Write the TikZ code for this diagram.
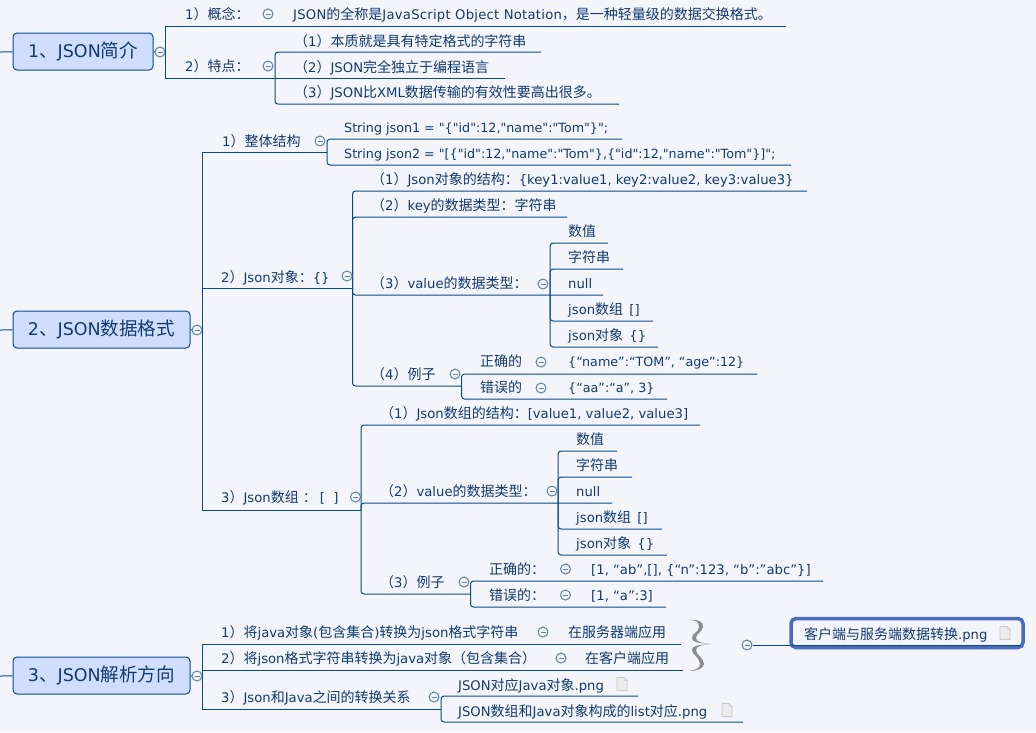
\documentclass[tikz,border=0pt]{standalone}
\usepackage{fontspec}
\newfontfamily\latinface{DejaVu Sans}
\newfontfamily\widelatin[LetterSpace=1.8]{DejaVu Sans}
\newfontfamily\cjk[Scale=1.06]{Noto Sans CJK SC}
\usetikzlibrary{positioning, calc}
\definecolor{bgpaper}{RGB}{243,245,251}
\definecolor{rootblue}{RGB}{207,222,255}
\definecolor{linenavy}{RGB}{6,74,140}
\definecolor{textnavy}{RGB}{18,58,110}
\definecolor{toggleblue}{RGB}{93,130,168}
\definecolor{boxblue}{RGB}{72,107,190}
\definecolor{bracegray}{RGB}{140,140,140}
\definecolor{pagefill}{RGB}{236,236,236}
\definecolor{pageedge}{RGB}{200,200,200}
\tikzset{
  root/.style={
    draw=linenavy,
    fill=rootblue,
    rounded corners=4pt,
    line width=1pt,
    minimum height=37pt,
    inner sep=0pt,
    text=textnavy,
    font=\latinface\fontsize{17.5}{21}\selectfont
  },
  item/.style={anchor=base west, inner sep=0pt, text=textnavy, font=\latinface\fontsize{13.2}{16}\selectfont},
  codeitem/.style={item, font=\latinface\fontsize{12.7}{16}\selectfont},
  toggle/.style={
    circle,
    draw=toggleblue,
    fill=bgpaper,
    line width=1pt,
    minimum size=10pt,
    inner sep=0pt,
    path picture={\draw[toggleblue, line width=1pt]
      ([xshift=-2.5pt]path picture bounding box.center) -- ([xshift=2.5pt]path picture bounding box.center);}
  },
  wire/.style={draw=linenavy, line width=1pt},
  elbow/.style={wire, rounded corners=3pt},
  linkbox/.style={
    draw=boxblue,
    fill=bgpaper,
    rounded corners=5pt,
    line width=3.5pt,
    minimum width=232pt,
    minimum height=29pt,
    inner sep=0pt
  },
  pageicon/.pic={
    \draw[draw=pageedge, fill=pagefill, line width=0.7pt]
      (-5,-6.5) -- (2,-6.5) -- (5,-3.5) -- (5,6.5) -- (-5,6.5) -- cycle;
    \draw[draw=pageedge, fill=white, line width=0.5pt] (2,-6.5) -- (2,-3.5) -- (5,-3.5) -- cycle;
  }
}
\begin{document}
\begin{tikzpicture}[x=1pt, y=-1pt]
  \useasboundingbox (0,0) rectangle (1036,732);
  \fill[bgpaper] (0,0) rectangle (1036,732);

  \coordinate (in1) at (0,52);
  \coordinate (in2) at (0,330);
  \coordinate (in3) at (0,676);
  \coordinate (bus1) at (165,52);
  \coordinate (bus1b) at (275,78);
  \coordinate (bus2) at (202,330);
  \coordinate (bus2a) at (327,152);
  \coordinate (bus2b) at (352.5,288);
  \coordinate (bus2b3) at (550,295);
  \coordinate (bus2b4) at (461.5,386);
  \coordinate (bus2c) at (361,510);
  \coordinate (bus2c2) at (558,503);
  \coordinate (bus2c3) at (470.5,594);
  \coordinate (bus3) at (202,676);
  \coordinate (bus3c) at (441,709);

  \coordinate (end1a) at (786,26);
  \coordinate (end1b1) at (541,52);
  \coordinate (end1b2) at (505,78);
  \coordinate (end1b3) at (619,104);
  \coordinate (end2a1) at (622,139);
  \coordinate (end2a2) at (791,165);
  \coordinate (end2b1) at (807,191);
  \coordinate (end2b2) at (567,217);
  \coordinate (end2b3) at (603,295);
  \coordinate (end2b3a) at (608,243);
  \coordinate (end2b3b) at (623,269);
  \coordinate (end2b3d) at (653,321);
  \coordinate (end2b3e) at (658,347);
  \coordinate (end2b4a) at (757,374);
  \coordinate (end2b4b) at (667,399);
  \coordinate (end2c1) at (700,425);
  \coordinate (end2c2) at (612,503);
  \coordinate (end2c2a) at (617,451);
  \coordinate (end2c2b) at (632,477);
  \coordinate (end2c2d) at (662,529);
  \coordinate (end2c2e) at (667,555);
  \coordinate (end2c3a) at (823,581);
  \coordinate (end2c3b) at (666,607);
  \coordinate (end3a) at (681,644);
  \coordinate (end3b) at (683,670);
  \coordinate (end3c1) at (638,696);
  \coordinate (end3c2) at (743,722);
  \coordinate (endlink) at (1021,645);

  \node[root, minimum width=140pt] (root1) at (83,51.5) {1{\cjk 、}JSON{\cjk 简介}};
  \node[root, minimum width=177pt] (root2) at (101.5,329.5) {2{\cjk 、}JSON{\cjk 数据格式}};
  \node[root, minimum width=177pt] (root3) at (101.5,675.5) {3{\cjk 、}JSON{\cjk 解析方向}};

  \draw[wire] (in1) -- (root1);
  \draw[wire] (in2) -- (root2);
  \draw[wire] (in3) -- (root3);
  \draw[wire] (root1) -- (bus1);
  \draw[wire] (root2) -- (bus2);
  \draw[wire] (root3) -- (bus3);

  \draw[wire] (bus1) |- (end1a);
  \draw[wire] (bus1) |- (bus1b);
  \draw[elbow] (bus1b) |- (end1b1);
  \draw[wire] (bus1b) -- (end1b2);
  \draw[elbow] (bus1b) |- (end1b3);

  \draw[wire] (bus2) |- (bus2a);
  \draw[wire] (bus2) |- (bus2b);
  \draw[wire] (bus2) |- (bus2c);
  \draw[elbow] (bus2a) |- (end2a1);
  \draw[elbow] (bus2a) |- (end2a2);
  \draw[elbow] (bus2b) |- (end2b1);
  \draw[elbow] (bus2b) |- (end2b2);
  \draw[elbow] (bus2b) |- (end2b3);
  \draw[elbow] (bus2b) |- (bus2b4);
  \draw[elbow] (bus2b3) |- (end2b3a);
  \draw[elbow] (bus2b3) |- (end2b3b);
  \draw[elbow] (bus2b3) |- (end2b3d);
  \draw[elbow] (bus2b3) |- (end2b3e);
  \draw[elbow] (bus2b4) |- (end2b4a);
  \draw[elbow] (bus2b4) |- (end2b4b);
  \draw[elbow] (bus2c) |- (end2c1);
  \draw[elbow] (bus2c) |- (end2c2);
  \draw[elbow] (bus2c) |- (bus2c3);
  \draw[elbow] (bus2c2) |- (end2c2a);
  \draw[elbow] (bus2c2) |- (end2c2b);
  \draw[elbow] (bus2c2) |- (end2c2d);
  \draw[elbow] (bus2c2) |- (end2c2e);
  \draw[elbow] (bus2c3) |- (end2c3a);
  \draw[elbow] (bus2c3) |- (end2c3b);

  \draw[wire] (bus3) |- (end3a);
  \draw[wire] (bus3) |- (end3b);
  \draw[wire] (bus3) |- (bus3c);
  \draw[elbow] (bus3c) |- (end3c1);
  \draw[elbow] (bus3c) |- (end3c2);

  \node[toggle] (tog1) at (160,52) {};
  \node[toggle] (tog1a) at (268,14) {};
  \node[toggle] (tog1b) at (268,66) {};
  \node[toggle] (tog2) at (197,330) {};
  \node[toggle] (tog2a) at (320,141) {};
  \node[toggle] (tog2b) at (347,276) {};
  \node[toggle] (tog2b3) at (543,284) {};
  \node[toggle] (tog2b4) at (455,374) {};
  \node[toggle] (tog2b4a) at (541,362) {};
  \node[toggle] (tog2b4b) at (541,388) {};
  \node[toggle] (tog2c) at (355.5,497) {};
  \node[toggle] (tog2c2) at (552,491) {};
  \node[toggle] (tog2c3) at (464,582) {};
  \node[toggle] (tog2c3a) at (565.5,569) {};
  \node[toggle] (tog2c3b) at (565.5,595) {};
  \node[toggle] (tog3) at (197,676) {};
  \node[toggle] (tog3a) at (543,632) {};
  \node[toggle] (tog3b) at (561,658) {};
  \node[toggle] (tog3c) at (434,697) {};

  \node[item] (txt1a) at (185,19) {1{\cjk ）概念：}};
  \node[item] (val1a) at (293,19) {{\widelatin JSON}{\cjk 的全称是}{\widelatin JavaScript Object Notation}{\cjk ，是一种轻量级的数据交换格式。}};
  \node[item] (txt1b) at (185,71) {2{\cjk ）特点：}};
  \node[item] (txt1b1) at (294,46) {{\cjk （}1{\cjk ）本质就是具有特定格式的字符串}};
  \node[item] (txt1b2) at (294,72) {{\cjk （}2{\cjk ）}JSON{\cjk 完全独立于编程语言}};
  \node[item] (txt1b3) at (294,97) {{\cjk （}3{\cjk ）}JSON{\cjk 比}XML{\cjk 数据传输的有效性要高出很多。}};

  \node[item] (txt2a) at (222,146) {1{\cjk ）整体结构}};
  \node[codeitem] (txt2a1) at (344,132) {String json1 = "\{"id":12,"name":"Tom"\}";};
  \node[codeitem] (txt2a2) at (344,158) {String json2 = "[\{"id":12,"name":"Tom"\},\{"id":12,"name":"Tom"\}]";};

  \node[item] (txt2b) at (221,282) {2{\cjk ）}Json{\cjk 对象：}\{\}};
  \node[item] (txt2b1) at (371,184) {{\cjk （}1{\cjk ）}Json{\cjk 对象的结构：}\{key1:value1, key2:value2, key3:value3\}};
  \node[item] (txt2b2) at (371,210) {{\cjk （}2{\cjk ）}key{\cjk 的数据类型：字符串}};
  \node[item] (txt2b3) at (371,288) {{\cjk （}3{\cjk ）}value{\cjk 的数据类型：}};
  \node[item] (txt2b3a) at (568,236) {{\cjk 数值}};
  \node[item] (txt2b3b) at (568,262) {{\cjk 字符串}};
  \node[item] (txt2b3c) at (568,288) {null};
  \node[item] (txt2b3d) at (568,314) {json{\cjk 数组} \hspace{2pt}[]};
  \node[item] (txt2b3e) at (568,340) {json{\cjk 对象} \hspace{2pt}\{\}};
  \node[item] (txt2b4) at (371,379) {{\cjk （}4{\cjk ）例子}};
  \node[item] (txt2b4a) at (480,366) {{\cjk 正确的}};
  \node[codeitem] (val2b4a) at (568,366) {\{“name”:“TOM”, “age”:12\}};
  \node[item] (txt2b4b) at (480,392) {{\cjk 错误的}};
  \node[codeitem] (val2b4b) at (568,392) {\{“aa”:“a”, 3\}};

  \node[item] (txt2c) at (221,502) {3{\cjk ）}Json{\cjk 数组} {\cjk ：}\hspace{3pt}[\hspace{4pt} ]};
  \node[item] (txt2c1) at (380,418) {{\cjk （}1{\cjk ）}Json{\cjk 数组的结构：}[value1, value2, value3]};
  \node[item] (txt2c2) at (380,496) {{\cjk （}2{\cjk ）}value{\cjk 的数据类型：}};
  \node[item] (txt2c2a) at (576,444) {{\cjk 数值}};
  \node[item] (txt2c2b) at (576,470) {{\cjk 字符串}};
  \node[item] (txt2c2c) at (576,496) {null};
  \node[item] (txt2c2d) at (576,522) {json{\cjk 数组} \hspace{2pt}[]};
  \node[item] (txt2c2e) at (576,548) {json{\cjk 对象} \hspace{2pt}\{\}};
  \node[item] (txt2c3) at (380,587) {{\cjk （}3{\cjk ）例子}};
  \node[item] (txt2c3a) at (489,574) {{\cjk 正确的：}};
  \node[item] (val2c3a) at (591,574) {[1, “ab”,[], \{“n”:123, “b”:”abc”\}]};
  \node[item] (txt2c3b) at (489,600) {{\cjk 错误的：}};
  \node[item] (val2c3b) at (591,600) {[1, “a”:3]};

  \node[item] (txt3a) at (221,637) {1{\cjk ）将}java{\cjk 对象}({\cjk 包含集合}){\cjk 转换为}json{\cjk 格式字符串}};
  \node[item] (val3a) at (568,637) {{\cjk 在服务器端应用}};
  \node[item] (txt3b) at (221,663) {2{\cjk ）将}json{\cjk 格式字符串转换为}java{\cjk 对象（包含集合）}};
  \node[item] (val3b) at (585,663) {{\cjk 在客户端应用}};
  \node[item] (txt3c) at (221,702) {3{\cjk ）}Json{\cjk 和}Java{\cjk 之间的转换关系}};
  \node[item] (txt3c1) at (458,690) {JSON{\cjk 对应}Java{\cjk 对象}.png};
  \node[item] (txt3c2) at (458,716) {JSON{\cjk 数组和}Java{\cjk 对象构成的}list{\cjk 对应}.png};
  \pic at (622,684) {pageicon};
  \pic at (727,710) {pageicon};

  \fill[bracegray] (689,620) .. controls (698,619) and (704,622) .. (703,627)
    .. controls (702,632) and (696,634) .. (696,638)
    .. controls (696,642) and (702,643) .. (711,644)
    .. controls (702,645) and (696,646) .. (696,650)
    .. controls (696,655) and (704,658) .. (704,664)
    .. controls (704,668) and (698,671) .. (689,671)
    .. controls (696,670) and (700,668) .. (700,664)
    .. controls (700,657) and (692,655) .. (692,650)
    .. controls (692,646) and (697,645) .. (711,644)
    .. controls (697,643) and (692,642) .. (692,638)
    .. controls (692,633) and (699,632) .. (699,627)
    .. controls (699,622) and (696,620) .. (689,620) -- cycle;

  \node[linkbox] (link) at (907,633) {};
  \node[toggle] (toglink) at (747,645) {};
  \draw[wire] (toglink) -- (endlink);
  \node[item] (txtlink) at (804,639) {{\cjk 客户端与服务端数据转换}.png};
  \pic at (1005,633) {pageicon};
\end{tikzpicture}
\end{document}
